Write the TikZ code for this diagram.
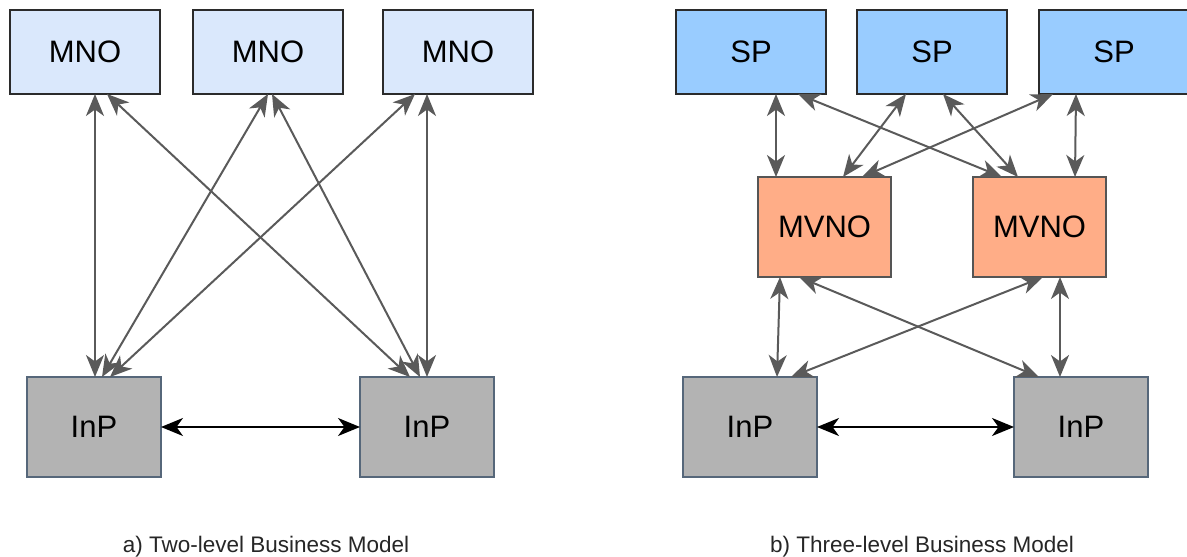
\documentclass[tikz,border=0pt]{standalone}
\usepackage{fontspec}
\setmainfont{Liberation Sans}
\usetikzlibrary{arrows.meta}
\definecolor{mnofill}{HTML}{DAE8FC}
\definecolor{spfill}{HTML}{99CCFF}
\definecolor{mvfill}{HTML}{FFAD87}
\definecolor{inpfill}{HTML}{B3B3B3}
\definecolor{inpline}{HTML}{56677A}
\definecolor{boxline}{HTML}{2B2B2B}
\definecolor{edgecol}{HTML}{5A5A5A}
\tikzset{
  box/.style={rectangle, draw=boxline, line width=1.3pt, anchor=north west,
    inner sep=0pt, outer sep=0pt, font=\fontsize{31}{35}\selectfont, text=black},
  mno/.style={box, fill=mnofill, minimum width=150pt, minimum height=84pt},
  sp/.style={box, fill=spfill, minimum width=150pt, minimum height=84pt},
  mv/.style={box, fill=mvfill, draw=boxline!80, minimum width=133pt, minimum height=100pt},
  inp/.style={box, fill=inpfill, draw=inpline, minimum width=134pt, minimum height=100pt},
  link/.style={draw=edgecol, line width=2pt,
    arrows={Stealth[length=22pt,width=18pt,inset=6.5pt]-Stealth[length=22pt,width=18pt,inset=6.5pt]}},
  hlink/.style={draw=black, line width=2pt,
    arrows={Stealth[length=22pt,width=18pt,inset=6.5pt]-Stealth[length=22pt,width=18pt,inset=6.5pt]}},
  caption/.style={font=\fontsize{22.5}{26}\selectfont, text=black!85}
}
\begin{document}
\begin{tikzpicture}[x=1pt,y=-1pt]
\useasboundingbox (0,0) rectangle (1187,557);
% ---- left: two-level
\node[mno] (mno1) at (10,10) {MNO};
\node[mno] (mno2) at (193,10) {MNO};
\node[mno] (mno3) at (383,10) {MNO};
\node[inp] (inpa) at (27,377) {InP};
\node[inp] (inpb) at (360,377) {InP};
\draw[link] ([xshift=85pt]mno1.south west) -- ([xshift=68pt]inpa.north west);
\draw[link] ([xshift=97pt]mno1.south west) -- ([xshift=50pt]inpb.north west);
\draw[link] ([xshift=75pt]mno2.south west) -- ([xshift=75pt]inpa.north west);
\draw[link] ([xshift=79pt]mno2.south west) -- ([xshift=60pt]inpb.north west);
\draw[link] ([xshift=32pt]mno3.south west) -- ([xshift=83pt]inpa.north west);
\draw[link] ([xshift=44pt]mno3.south west) -- ([xshift=67pt]inpb.north west);
\draw[hlink] (inpa.east) -- (inpb.west);
\node[caption] (capa) at (266,547) {a) Two-level Business Model};
% ---- right: three-level
\node[sp] (sp1) at (676,10) {SP};
\node[sp] (sp2) at (857,10) {SP};
\node[sp] (sp3) at (1039,10) {SP};
\node[mv] (mv1) at (758,177) {MVNO};
\node[mv] (mv2) at (973,177) {MVNO};
\node[inp] (inpc) at (683,377) {InP};
\node[inp] (inpd) at (1014,377) {InP};
\draw[link] ([xshift=100pt]sp1.south west) -- ([xshift=18pt]mv1.north west);
\draw[link] ([xshift=122pt]sp1.south west) -- ([xshift=29pt]mv2.north west);
\draw[link] ([xshift=49pt]sp2.south west) -- ([xshift=85pt]mv1.north west);
\draw[link] ([xshift=86pt]sp2.south west) -- ([xshift=45pt]mv2.north west);
\draw[link] ([xshift=14pt]sp3.south west) -- ([xshift=104pt]mv1.north west);
\draw[link] ([xshift=37pt]sp3.south west) -- ([xshift=102pt]mv2.north west);
\draw[link] ([xshift=22pt]mv1.south west) -- ([xshift=94pt]inpc.north west);
\draw[link] ([xshift=41pt]mv1.south west) -- ([xshift=25pt]inpd.north west);
\draw[link] ([xshift=70pt]mv2.south west) -- ([xshift=108pt]inpc.north west);
\draw[link] ([xshift=87pt]mv2.south west) -- ([xshift=46pt]inpd.north west);
\draw[hlink] (inpc.east) -- (inpd.west);
\node[caption] (capb) at (922,547) {b) Three-level Business Model};
\end{tikzpicture}
\end{document}
